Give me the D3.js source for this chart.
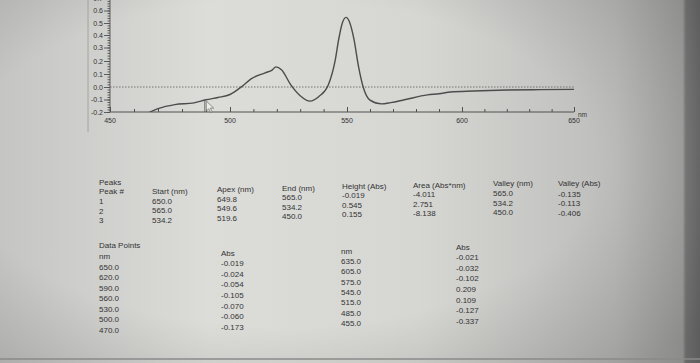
<!DOCTYPE html>
<meta charset="utf-8">
<head>
	<title>Spectrum</title>
</head>

<style>
	body { margin: 0; background: #cfcfcc; }
	svg { display: block; }
	text { font-family: "Liberation Sans", Arial, sans-serif; fill: #333333; }
</style>

<body>

<div id="wrapper"></div>

<script src="https://d3js.org/d3.v7.min.js"></script>
<script>

// spectrum trace
var wavelengths = [450, 455, 470, 477, 485, 490, 495, 500, 505, 509,
	515, 518, 519.6, 522, 526, 530, 534.2, 538, 542, 545,
	546.5, 548, 549.6, 551, 553, 555, 557, 560, 565, 569,
	575, 585, 590, 595, 605, 620, 635, 650];
var absorbance = [-0.406, -0.337, -0.173, -0.141, -0.127, -0.102, -0.084, -0.060, 0.003, 0.063,
	0.109, 0.130, 0.155, 0.133, 0.016, -0.070, -0.113, -0.076, 0.016, 0.209,
	0.37, 0.50, 0.545, 0.512, 0.369, 0.159, 0.002, -0.105, -0.135, -0.125,
	-0.102, -0.063, -0.054, -0.040, -0.032, -0.024, -0.021, -0.019];

var xTicks = [450, 500, 550, 600, 650];
var yTicks = [-0.2, -0.1, 0.0, 0.1, 0.2, 0.3, 0.4, 0.5, 0.6, 0.7];
var cursorNm = 489.5;

// peaks table
var peakNums = [1, 2, 3];
var peakStart = [650.0, 565.0, 534.2];
var peakApex = [649.8, 549.6, 519.6];
var peakEnd = [565.0, 534.2, 450.0];
var peakHeight = [-0.019, 0.545, 0.155];
var peakArea = [-4.011, 2.751, -8.138];
var valleyNm = [565.0, 534.2, 450.0];
var valleyAbs = [-0.135, -0.113, -0.406];

// data points table
var pointsNmA = [650.0, 620.0, 590.0, 560.0, 530.0, 500.0, 470.0];
var pointsAbsA = [-0.019, -0.024, -0.054, -0.105, -0.070, -0.060, -0.173];
var pointsNmB = [635.0, 605.0, 575.0, 545.0, 515.0, 485.0, 455.0];
var pointsAbsB = [-0.021, -0.032, -0.102, 0.209, 0.109, -0.127, -0.337];

var W = 700, H = 363;
// printout uses a plain hyphen for negatives
var loc = d3.formatLocale({ decimal: ".", thousands: ",", grouping: [3], currency: ["", ""], minus: "-" });
var f1 = loc.format(".1f"), f3 = loc.format(".3f");

var svg = d3.select("#wrapper").append("svg")
	.attr("width", W).attr("height", H);

var defs = svg.append("defs");

// paper photographed under uneven light
var bg = defs.append("linearGradient").attr("id", "paper");
bg.append("stop").attr("offset", "0%").attr("stop-color", "#c5c5c3");
bg.append("stop").attr("offset", "30%").attr("stop-color", "#dcdcd9");
bg.append("stop").attr("offset", "60%").attr("stop-color", "#d6d6d3");
bg.append("stop").attr("offset", "88%").attr("stop-color", "#bdbdbb");
bg.append("stop").attr("offset", "97.5%").attr("stop-color", "#a7a7a6");
bg.append("stop").attr("offset", "98%").attr("stop-color", "#7d7d7d");
bg.append("stop").attr("offset", "100%").attr("stop-color", "#6e6e6e");

var vig = defs.append("radialGradient").attr("id", "vig")
	.attr("cx", "40%").attr("cy", "45%").attr("r", "75%");
vig.append("stop").attr("offset", "60%").attr("stop-color", "#000").attr("stop-opacity", 0);
vig.append("stop").attr("offset", "100%").attr("stop-color", "#000").attr("stop-opacity", 0.16);

svg.append("rect").attr("width", W).attr("height", H).attr("fill", "url(#paper)");
svg.append("rect").attr("width", W).attr("height", H).attr("fill", "url(#vig)");
svg.append("line").attr("x1", 0).attr("x2", W).attr("y1", H - 4).attr("y2", H - 4)
	.attr("stroke", "#8a8a8a").attr("stroke-width", 1.5);
svg.append("line").attr("x1", 88).attr("x2", 88).attr("y1", 0).attr("y2", 132)
	.attr("stroke", "#9a9a9a").attr("stroke-width", 0.8);

// ---- chart ----
// the photo is taken at a slight angle, so the scales are piecewise
var x = d3.scaleLinear().domain(xTicks).range([110, 230, 347, 462, 574]);
var y = d3.scaleLinear().domain(yTicks)
	.range([112, 99.5, 87, 74, 61, 47.5, 35, 23, 10.5, -1.5]);

var chart = svg.append("g");

defs.append("clipPath").attr("id", "plot")
	.append("rect")
	.attr("x", x(450)).attr("y", 0)
	.attr("width", x(650) - x(450)).attr("height", y(-0.2));

// zero line
chart.append("line")
	.attr("x1", x(450)).attr("x2", x(650))
	.attr("y1", y(0)).attr("y2", y(0))
	.attr("stroke", "#6a6a6a").attr("stroke-width", 0.9)
	.attr("stroke-dasharray", "1.5,1.5");

var line = d3.line()
	.x(function(d, i) { return x(wavelengths[i]); })
	.y(function(d) { return y(d); })
	.curve(d3.curveMonotoneX);

chart.append("path")
	.datum(absorbance)
	.attr("clip-path", "url(#plot)")
	.attr("fill", "none")
	.attr("stroke", "#4c4c4c")
	.attr("stroke-width", 1.4)
	.attr("d", line);

// x axis with 10 nm minor ticks pointing up
var xAxis = chart.append("g").attr("transform", "translate(0," + y(-0.2) + ")");
xAxis.append("g")
	.call(d3.axisTop(x).tickValues(d3.range(450, 651, 10)).tickSize(3).tickFormat(""))
	.call(function(g) { g.select(".domain").remove(); });
xAxis.append("g")
	.call(d3.axisTop(x).tickValues(xTicks).tickSize(5).tickFormat(""))
	.call(function(g) { g.select(".domain").remove(); });
xAxis.append("line").attr("x1", x(450)).attr("x2", x(650)).attr("stroke", "#505050");
xAxis.selectAll("line").attr("stroke", "#505050");
xAxis.selectAll(".xlab")
	.data(xTicks)
	.enter().append("text")
	.attr("x", function(d) { return x(d); })
	.attr("y", 11)
	.attr("text-anchor", "middle")
	.style("font-size", "7px")
	.text(function(d) { return d; });
xAxis.append("text")
	.attr("x", x(650) + 4).attr("y", 5)
	.style("font-size", "6.5px")
	.text("nm");

// y axis, ruler-like
var yAxis = chart.append("g").attr("transform", "translate(" + x(450) + ",0)");
yAxis.append("g")
	.call(d3.axisLeft(y).tickValues(d3.range(-0.2, 0.701, 0.02)).tickSize(2.5).tickFormat(""))
	.call(function(g) { g.select(".domain").remove(); });
yAxis.append("g")
	.call(d3.axisLeft(y).tickValues(yTicks).tickSize(6).tickFormat(f1).tickPadding(1))
	.call(function(g) { g.select(".domain").remove(); })
	.call(function(g) {
		g.selectAll("text").style("font-size", "7px").attr("fill", "#3a3a3a")
			.style("font-family", "Liberation Sans, Arial, sans-serif");
	});
yAxis.append("line").attr("y1", 0).attr("y2", y(-0.2)).attr("stroke", "#505050");
yAxis.selectAll("line").attr("stroke", "#505050").attr("stroke-width", 0.9);

// cursor marker
var cIdx = d3.bisectLeft(wavelengths, cursorNm);
var cAbs = absorbance[cIdx - 1] + (absorbance[cIdx] - absorbance[cIdx - 1]) *
	(cursorNm - wavelengths[cIdx - 1]) / (wavelengths[cIdx] - wavelengths[cIdx - 1]);
chart.append("line")
	.attr("x1", x(cursorNm)).attr("x2", x(cursorNm))
	.attr("y1", y(cAbs)).attr("y2", y(-0.2))
	.attr("stroke", "#606060").attr("stroke-width", 0.9);
chart.append("path")
	.attr("transform", "translate(" + (x(cursorNm) + 1.5) + "," + (y(cAbs) + 1) + ")")
	.attr("d", "M0,0 L0,10 L2.4,7.6 L4.3,11.3 L5.9,10.6 L4.1,7 L7.4,7 Z")
	.attr("fill", "#ececea").attr("stroke", "#6a6a6a").attr("stroke-width", 0.7);

// ---- tables ----
var tables = svg.append("g").style("font-size", "8px");

function column(xPos, headY, head, rowY, step, values, fmt) {
	var g = tables.append("g");
	if (head) g.append("text").attr("x", xPos).attr("y", headY).attr("dy", "0.35em").text(head);
	g.selectAll(".v")
		.data(values)
		.enter().append("text")
		.attr("x", xPos)
		.attr("y", function(d, i) { return rowY + i * step; })
		.attr("dy", "0.35em")
		.text(function(d) { return fmt(d); });
}

tables.append("text").attr("x", 99).attr("y", 182).attr("dy", "0.35em").text("Peaks");
column(99, 191, "Peak #", 201.5, 9.4, peakNums, String);
column(152, 191, "Start (nm)", 201, 9.4, peakStart, f1);
column(217, 189.5, "Apex (nm)", 199, 9.4, peakApex, f1);
column(282, 188, "End (nm)", 197.5, 9.3, peakEnd, f1);
column(342, 186.5, "Height (Abs)", 195.5, 9.2, peakHeight, f3);
column(413, 185, "Area (Abs*nm)", 194.5, 9.4, peakArea, f3);
column(493, 183.5, "Valley (nm)", 193.5, 9.5, valleyNm, f1);
column(558, 183, "Valley (Abs)", 194, 9.5, valleyAbs, f3);

tables.append("text").attr("x", 99).attr("y", 245).attr("dy", "0.35em").text("Data Points");
column(99, 256, "nm", 267, 10.5, pointsNmA, f1);
column(221, 253, "Abs", 263, 10.7, pointsAbsA, f3);
column(341, 251.5, "nm", 261, 10.4, pointsNmB, f1);
column(456, 247, "Abs", 257, 10.7, pointsAbsB, f3);

</script>
</body>
</html>
